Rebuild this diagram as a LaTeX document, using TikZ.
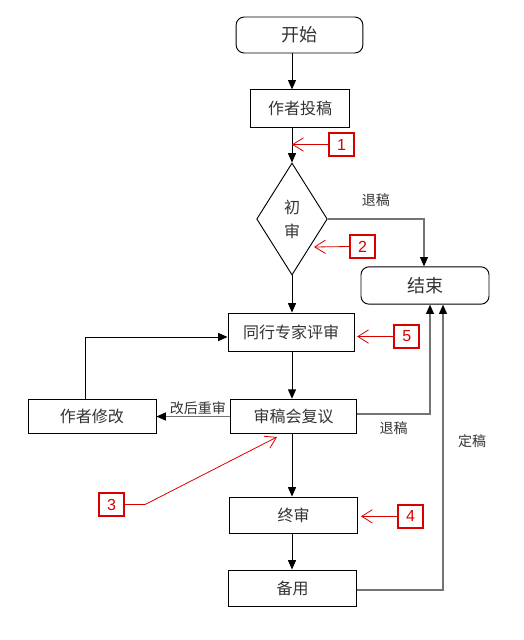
\documentclass[tikz,border=0pt]{standalone}
\usepackage{fontspec}
\newfontfamily\cjk{Noto Sans CJK SC}
\newfontfamily\numfont{Liberation Sans}
\usepackage{tikz}
\usetikzlibrary{shapes.geometric,arrows.meta,positioning}

\begin{document}
\begin{tikzpicture}[
    x=0.75pt, y=-0.75pt,
    box/.style={rectangle, draw, line width=0.7pt, minimum width=96pt, minimum height=27pt, inner sep=2pt, font=\cjk\fontsize{12}{14}\selectfont, text=black!80},
    term/.style={box, rounded corners=6pt, font=\cjk\fontsize{13.5}{16}\selectfont},
    decision/.style={diamond, draw, line width=0.7pt, minimum width=53pt, minimum height=84pt, inner sep=0pt, align=center, font=\cjk\fontsize{12}{18}\selectfont, text=black!80},
    arrow/.style={-{Triangle[length=7pt,width=6pt]}, line width=0.7pt},
    garrow/.style={-{Triangle[length=7pt,width=6pt,color=black]}, line width=0.8pt, draw=black!55},
    note/.style={font=\cjk\fontsize{10.5}{12}\selectfont, text=black!80, inner sep=1pt},
    flag/.style={rectangle, draw=red!85!black, line width=1.4pt, text=red!85!black, font=\numfont\fontsize{12}{14}\selectfont, minimum width=19pt, minimum height=17pt, inner sep=0pt},
    pointer/.style={-{Straight Barb[length=8pt,width=10pt]}, draw=red!85!black, line width=0.6pt}
]
    \useasboundingbox (0,0) rectangle (524,640);

    % main column
    \node[term, minimum width=95pt] (kaishi) at (299.5,35) {开始};
    \node[box, minimum width=74pt, minimum height=28pt] (tougao) at (300,108.5) {作者投稿};
    \node[decision] (chushen) at (292,219) {初\\审};
    \node[term, minimum height=28pt] (jieshu) at (425,285.5) {结束};
    \node[box, minimum width=94.5pt, minimum height=28.5pt] (pingshen) at (291,332) {同行专家评审};
    \node[box, minimum width=95pt, minimum height=26pt] (shengao) at (293.5,416.5) {审稿会复议};
    \node[box, minimum height=26pt] (xiugai) at (92,416.5) {作者修改};
    \node[box, minimum width=96.5pt] (zhongshen) at (293.5,515) {终审};
    \node[box, minimum width=96.5pt] (beiyong) at (292.5,588) {备用};

    \draw[arrow] (kaishi.south -| chushen.north) -- (tougao.north -| chushen.north);
    \draw[arrow] (tougao.south -| chushen.north) -- (chushen.north);
    \draw[arrow] (chushen.south) -- (chushen.south |- pingshen.north);
    \draw[arrow] (pingshen.south -| chushen.south) -- (shengao.north -| chushen.south);
    \draw[arrow] (shengao.south -| chushen.south) -- (zhongshen.north -| chushen.south);
    \draw[arrow] (zhongshen.south -| chushen.south) -- (beiyong.north -| chushen.south);

    % side paths
    \draw[garrow] (chushen.east) -| node[pos=0.25, above=8pt, note] {退稿} ([xshift=-0.75pt]jieshu.north);
    \draw[garrow] (shengao.west) -- node[above, xshift=3.5pt, note] {改后重审} (xiugai.east);
    \draw[arrow] ([xshift=-5pt]xiugai.north) |- ([yshift=-3.75pt]pingshen.west);
    \draw[garrow] ([yshift=1.9pt]shengao.east) -| node[pos=0.25, below=4pt, note] {退稿} ([xshift=3.75pt]jieshu.south);
    \draw[garrow] ([yshift=-1.5pt]beiyong.east) -| node[pos=0.76, right=10pt, note] {定稿} ([xshift=13.5pt]jieshu.south);

    % red markers
    \node[flag] (flag1) at (341.5,144.5) {1};
    \node[flag] (flag2) at (362.5,246.5) {2};
    \node[flag] (flag3) at (111.5,504.5) {3};
    \node[flag, right=29pt of zhongshen, yshift=-1pt] (flag4) {4};
    \node[flag, right=29pt of pingshen, yshift=-3.4pt] (flag5) {5};
    \coordinate (tip2) at (314,247);
    \coordinate (tip3) at (277,437);

    \draw[pointer] (flag1.west) -- (flag1.west -| chushen.north);
    \draw[pointer] (flag2.west) -- (tip2);
    \draw[pointer] (flag3.east) -- ++(15pt,0) -- (tip3);
    \draw[pointer] (flag4.west) -- ([xshift=2pt]zhongshen.east |- flag4.west);
    \draw[pointer] (flag5.west) -- ([xshift=2pt]pingshen.east |- flag5.west);
\end{tikzpicture}
\end{document}
